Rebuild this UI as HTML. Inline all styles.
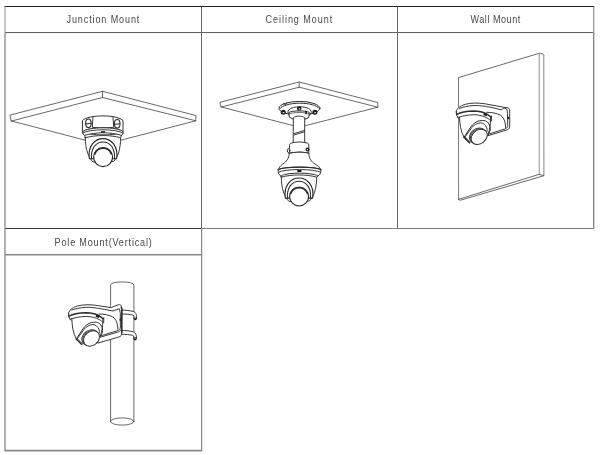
<!DOCTYPE html>
<html>
<head>
<meta charset="utf-8">
<title>Mount types</title>
<style>
html,body{margin:0;padding:0;background:#fff;}
body{width:600px;height:455px;overflow:hidden;font-family:"Liberation Sans",sans-serif;}
svg{display:block;filter:grayscale(1);}
.t{font-family:"Liberation Sans",sans-serif;font-size:11.3px;fill:#484848;}
.d{fill:none;stroke:#2e2e2e;stroke-width:0.95;stroke-linecap:round;stroke-linejoin:round;}
.w{fill:#fff;stroke:#2e2e2e;stroke-width:0.95;stroke-linecap:round;stroke-linejoin:round;}
.k{fill:#1c1c1c;stroke:none;}
.p{fill:none;stroke:#424242;stroke-width:0.8;stroke-linecap:round;stroke-linejoin:round;}
.pw{fill:#fff;stroke:#424242;stroke-width:0.8;stroke-linecap:round;stroke-linejoin:round;}
.h{fill:none;stroke:#2a2a2a;stroke-width:1.3;stroke-linecap:round;}
</style>
</head>
<body>
<svg width="600" height="455" viewBox="0 0 600 455">
<rect width="600" height="455" fill="#fff"/>

<!-- ===== table grid ===== -->
<g id="grid" fill="none">
  <line x1="4.4" y1="6.5" x2="594.3" y2="6.5" stroke="#222" stroke-width="1"/>
  <line x1="5" y1="32.5" x2="593.5" y2="32.5" stroke="#606060" stroke-width="1"/>
  <line x1="5" y1="228.5" x2="201.5" y2="228.5" stroke="#3a3a3a" stroke-width="1"/>
  <line x1="201.5" y1="228.5" x2="594" y2="228.5" stroke="#808080" stroke-width="1"/>
  <line x1="5" y1="254.8" x2="201.5" y2="254.8" stroke="#888" stroke-width="1.5"/>
  <line x1="4.5" y1="450.7" x2="202.2" y2="450.7" stroke="#888" stroke-width="1.7"/>
  <line x1="5" y1="6.5" x2="5" y2="32.5" stroke="#a4a4a4" stroke-width="1.2"/>
  <line x1="5" y1="32.5" x2="5" y2="450.7" stroke="#808080" stroke-width="1.2"/>
  <line x1="201.5" y1="6.5" x2="201.5" y2="228.5" stroke="#6a6a6a" stroke-width="1"/>
  <line x1="201.6" y1="228.5" x2="201.6" y2="450.7" stroke="#888" stroke-width="1.2"/>
  <line x1="397.5" y1="6.5" x2="397.5" y2="228.5" stroke="#6a6a6a" stroke-width="1"/>
  <line x1="593.7" y1="6.5" x2="593.7" y2="32.5" stroke="#989898" stroke-width="1.3"/>
  <line x1="593.7" y1="32.5" x2="593.7" y2="229" stroke="#808080" stroke-width="1.3"/>
</g>

<!-- ===== labels ===== -->
<g id="labels">
  <text class="t" transform="translate(66.5,23.3) scale(0.8,1)" x="0" y="0" textLength="91.1" lengthAdjust="spacing">Junction Mount</text>
  <text class="t" transform="translate(265.6,23.3) scale(0.8,1)" x="0" y="0" textLength="83.2" lengthAdjust="spacing">Ceiling Mount</text>
  <text class="t" transform="translate(470.6,23.3) scale(0.8,1)" x="0" y="0" textLength="62.0" lengthAdjust="spacing">Wall Mount</text>
  <text class="t" transform="translate(54.6,245.6) scale(0.8,1)" x="0" y="0" textLength="121.5" lengthAdjust="spacing">Pole Mount(Vertical)</text>
</g>

<defs>
  <!-- camera seen from below (junction coords: housing centre 102.8,152) -->
  <g id="camB">
    <!-- dome body -->
    <path class="w" d="M85.3,137.5 C85.4,143 85.8,148 87.8,153.6 C89,156.5 90.5,159.5 93,162 L113.5,161.5 C116,159 117.5,156 118.5,153 C120,148 120.6,143 120.7,137.7 C110,134.8 96,134.8 85.3,137.7 Z"/>
    <!-- lens housing rings -->
    <path class="w" d="M89.4,158.7 C88.6,154 89.3,148 92.5,143.8 C95.3,140.4 99,138.6 103,138.6 C107,138.6 110.7,140.4 113.5,143.8 C116.7,148 117.4,154 116.6,158.7 Z" style="stroke-width:1.15;stroke:#262626"/>
    <path class="d" d="M91.5,158.7 C91.1,154 91.9,149.9 94.2,146.5 C96.4,143.5 99.5,141.9 103,141.9 C106.5,141.9 109.6,143.5 111.8,146.5 C114.1,149.9 114.9,154 114.5,158.7" style="stroke-width:1.05;stroke:#2a2a2a"/>
    <!-- lens face -->
    <circle class="w" cx="103.1" cy="157.1" r="9.5" style="stroke-width:1.15;stroke:#262626"/>
    <path d="M94.9,153.9 A8.8,8.8 0 0 1 111.3,153.9" fill="none" stroke="#2a2a2a" stroke-width="1.6" stroke-linecap="round"/>
  </g>

  <!-- camera, side/below view (wall coords) -->
  <g id="camS">
    <!-- base ring + dome fills -->
    <path class="w" d="M456.6,112.5 C460,110.4 470,109 480,109.4 L491.5,112.5 L491.5,121 L458,118 L456.7,115.3 Z" style="stroke:none"/>
    <path class="w" d="M458.9,117 C459.2,124 460.2,131 464,137.3 L469.3,142.7 L488,134.8 C490,129 490.8,122 490.6,116.6 C487,114 480,112.6 474,112.6 C468,112.6 462,114.5 458.9,117 Z" style="stroke:none"/>
    <path class="d" d="M456.3,111.3 L456.7,115.3 L457.8,117.4"/>
    <path class="d" d="M457,114.3 C460,112.5 467,111.2 474,111 C479,111 483,112 486,113.7 C488,114.8 489.6,115.9 490.6,117" style="stroke-width:1.45"/>
    <path class="d" d="M457.8,117.6 C461,116.2 468,114.8 474,114.7 C479,114.8 484,116.2 487,117.9 C489,119 490,119.9 490.6,120.8"/>
    <!-- dome -->
    <path class="d" d="M459.5,117.2 C459.8,124 460.6,131 464,137.3 C465.5,139.3 467.3,141.2 469.3,142.7"/>
    <path class="d" d="M464,137.3 L469.5,142.8" style="stroke-width:1.3"/>
    <path class="d" d="M465,136.9 L470.3,142.2" style="stroke-width:0.8"/>
    <path class="d" d="M490.6,116.6 C490.8,122 490,129 488,134.8"/>
    <path class="d" d="M491.5,116 L491.4,121"/>
    <!-- eyeball housing rings -->
    <path class="d" d="M464,137.3 L470.7,127.1 C472.5,124.4 476,121.4 479.3,120.8 C482,120.4 484,120.4 485.3,120.8 C487.6,121.5 489.4,124 490.2,127.1 C490.6,129.3 490.2,132 488,134.8" style="stroke-width:1"/>
    <path class="d" d="M465,137 L472,127.3 C473.6,125.3 476.8,123.1 480.7,122.8 C483.2,122.8 485.6,124.9 486.7,127.7 C487.2,129 487.3,130.3 487,131.5"/>
    <!-- lens barrel + face -->
    <ellipse class="w" cx="477.5" cy="135.6" rx="8.8" ry="6.8" transform="rotate(-39 477.5 135.6)" style="stroke-width:0.95"/>
    <ellipse class="w" cx="478.4" cy="136.25" rx="8.8" ry="6.8" transform="rotate(-39 478.4 136.25)" style="stroke-width:0.8"/>
    <ellipse class="w" cx="479.2" cy="136.8" rx="8.8" ry="6.8" transform="rotate(-39 479.2 136.8)" style="stroke-width:1"/>
    <rect class="k" x="483.6" y="113.4" width="3.5" height="2.3" transform="rotate(22 485.3 114.5)"/>
  </g>
</defs>

<!-- ===== Junction Mount ===== -->
<g id="junction">
  <!-- plate -->
  <path class="p" d="M10.3,115 L102.5,91.3 L195.8,115.5 L195.8,120.8 L102.5,97.5 L11.5,121 Z"/>
  <path class="p" d="M102.5,91.3 L102.5,97.5"/>
  <path class="p" d="M11.5,121 L103.1,144.8 L195.8,120.8"/>
  <!-- junction box -->
  <path class="w" d="M82.7,120.3 C88,114.3 118,114.3 123,120.7 L123,131.7 C118,136 88,136 82.7,131.7 Z" style="stroke-width:1"/>
  <path class="d" d="M93,116.6 L92.3,127.4 C99,127.9 107,127.9 113.7,127.4 L113,116.6"/>
  <path class="d" d="M82.7,131.7 C88,126.5 118,126.5 123,131.7" style="stroke-width:1"/>
  <ellipse class="d" cx="88.4" cy="123.3" rx="2.8" ry="4.3" style="stroke-width:1.1;stroke:#262626"/>
  <path class="d" d="M85.8,124 L91,123.2" style="stroke-width:1.1"/>
  <ellipse class="d" cx="117.2" cy="123.8" rx="2.8" ry="4.3" style="stroke-width:1.1;stroke:#262626"/>
  <path class="d" d="M114.6,124.3 L119.8,123.8" style="stroke-width:1.1"/>
  <!-- camera base ring -->
  <path d="M84.6,135.2 L85.3,137.9 L120.7,137.9 L121.4,135.2 Z" fill="#fff"/>
  <path class="d" d="M84.6,135.2 L85.3,137.9 M120.7,137.9 L121.4,135.2"/>
  <path class="w" d="M82.7,131.7 C88,126.5 118,126.5 123,131.7 C123.3,133.5 122.6,134.6 121.4,135.3 C110,131.9 96,131.9 84.6,135.3 C83.2,134.6 82.4,133.5 82.7,131.7 Z"/>
  <path class="d" d="M82.7,133.2 C89,128.6 117,128.6 123,133.2"/>
  <rect class="k" x="101" y="131.2" width="4.1" height="1.5"/>
  <use href="#camB"/>
</g>

<!-- ===== Ceiling Mount ===== -->
<g id="ceiling">
  <path class="p" d="M220.3,102.2 L299.2,82 L377.8,102.5 L377.8,107.2 L299.2,87.2 L221.3,107 Z"/>
  <path class="p" d="M299.2,82 L299.2,87.2"/>
  <path class="p" d="M221.3,107 L299.3,127.2 L377.8,107.2"/>
  <!-- flange -->
  <ellipse class="w" cx="299.5" cy="108.3" rx="20.5" ry="6.9" style="stroke-width:1;stroke:#2a2a2a"/>
  <path class="d" d="M280,108.6 C282,105.6 290,103.2 299.7,103.2 C309.4,103.2 317,105.4 318.9,108.2" style="stroke-width:1"/>
  <path class="d" d="M283.4,103.4 L285.3,105.2 L286.3,103" style="stroke-width:0.8"/>
  <path class="d" d="M289.6,115.2 C287.6,113.8 287.4,111.4 288.8,109.9 C291,107.6 295,106.8 299.6,106.8 C304.2,106.8 308.4,107.6 310.5,109.9 C311.8,111.4 311.6,113.8 309.6,115.2"/>
  <!-- screws -->
  <circle class="k" cx="283.3" cy="112.3" r="2.5"/>
  <circle class="k" cx="299.2" cy="108.5" r="2.3"/>
  <circle class="k" cx="314.9" cy="112.3" r="2.5"/>
  <ellipse cx="283.5" cy="112.7" rx="0.9" ry="0.6" fill="#fff"/>
  <ellipse cx="299.4" cy="108.9" rx="0.8" ry="0.55" fill="#fff"/>
  <ellipse cx="315.1" cy="112.7" rx="0.9" ry="0.6" fill="#fff"/>
  <!-- hub -->
  <path class="w" d="M289.2,112.3 C292,110.4 306,110.4 309.2,112.3 L308.8,117.4 C305,120.6 294,120.6 289.6,117.4 Z" style="stroke-width:1"/>
  <path class="d" d="M289.4,113.8 C293,112 305.5,112 309,113.8" style="stroke-width:0.7"/>
  <rect class="k" x="305.2" y="111" width="1.7" height="3.2"/>
  <!-- pole -->
  <path class="w" d="M293.6,117.6 C296,115.6 302,115.6 304.7,117.6 L304.7,143 L293.6,143 Z"/>
  <path class="d" d="M294,133.6 L304.5,130.4 M294,135 L304.5,131.8"/>
  <!-- collar -->
  <path class="w" d="M289.6,144.8 C289.7,144 290.2,143.5 291,143.2 C295,141.6 304,141.6 307.6,143.2 C308.4,143.5 308.8,144 308.8,144.8 L308.8,153.5 C306,151.8 293,151.8 289.4,153.5 Z"/>
  <path class="d" d="M289.4,153.5 C293,151.8 306,151.8 308.8,153.5" style="stroke-width:1.2"/>
  <ellipse class="w" cx="288.6" cy="150.7" rx="1.3" ry="1.9" style="stroke-width:1;stroke:#222"/>
  <circle class="k" cx="307.5" cy="149.6" r="2"/>
  <circle cx="307.4" cy="149.6" r="0.7" fill="#fff"/>
  <!-- bell -->
  <path class="w" d="M289.4,153.5 C293,151.8 306,151.8 308.8,153.5 C309.3,159 311,161.5 315.3,164.2 C318,166 320.3,167.6 320.8,169.8 L278.4,169.8 C278.9,167.6 280,166.3 282.5,164.2 C286.5,161.5 288.7,159 289.4,153.5 Z"/>
  <!-- rim / camera base -->
  <path class="w" d="M278.3,169.6 C284,166.3 315,166.3 320.8,169.6 C321.2,172.5 320.2,174.5 318.2,175.8 C309,172.2 290,172.2 280.6,175.8 C278.6,174.5 277.8,172.5 278.3,169.6 Z" style="stroke-width:1"/>
  <path class="d" d="M278.4,169.6 C284,166.3 315,166.3 320.8,169.6" style="stroke-width:1.2"/>
  <path class="d" d="M278.4,172.2 C285,168.6 314,168.6 320.6,172.2"/>
  <path d="M280.6,175.8 L281.3,177.4 L316.7,177.4 L318.2,175.8 Z" fill="#fff"/>
  <path class="d" d="M280.6,175.8 L281.3,177.3 M316.7,177.3 L318.2,175.8"/>
  <rect class="k" x="297.3" y="170" width="4.1" height="2"/>
  <use href="#camB" transform="translate(196,39.4)"/>
</g>


<!-- ===== Wall Mount ===== -->
<g id="wall">
  <!-- slab -->
  <path class="p" d="M458.5,77.6 L539.2,53.3 C541.5,53.1 543,53.7 543.8,54.9" />
  <path d="M458.5,77.6 L458.6,199.3" fill="none" stroke="#555" stroke-width="0.8"/>
  <path d="M539.2,53.3 L539.2,174.3" fill="none" stroke="#888" stroke-width="0.9"/>
  <path d="M543.8,54.9 L543.9,175.7" fill="none" stroke="#888" stroke-width="1"/>
  <path class="p" d="M458.6,199.3 L539.2,174.3 L543.9,175.7 L460.6,200.2 Z"/>
  <!-- bracket -->
  <path class="w" d="M456.3,111.3 C457,108.5 459,106.4 465.3,104.3 C471,102.8 478,102.7 485,103.8 L504,107.3 L507.3,107.7 C509,108 509.7,109 509.7,111 L509.7,126 C509.7,128 508.8,129.2 507.3,129.8 L488,135.7 L470,135 L456.7,115.3 Z"/>
  <path class="d" d="M459.3,108.5 C462,107.3 468,105.8 474,105.5 C479,105.4 484,106.1 492,107.5 L501.3,109.9 L504,107.9 L506.7,109 C507.3,110 507.5,112 507.5,113.3 L507.7,125.4 C507.7,127.2 506.9,128.2 505.7,128.7 L488.6,134.1"/>
  <ellipse class="k" cx="508.5" cy="118" rx="0.8" ry="1.2"/>
  <use href="#camS"/>
  <path class="d" d="M486.7,112.3 C492,112.3 497,113.3 500.7,115.3 C503,117 504.8,120 505.3,124 L505.7,127.6"/>
</g>

<!-- ===== Pole Mount ===== -->
<g id="pole">
  <!-- pole -->
  <path class="p" d="M110.6,421.5 L110.6,285 C110.6,280.9 133.9,280.9 133.9,285 L133.9,421.5"/>
  <ellipse class="p" cx="122.25" cy="421.5" rx="11.65" ry="3.6"/>
  <!-- straps -->
  <g id="strap">
    <path class="w" d="M121.6,310 C126,310.2 130,310.6 133.3,311.5 C135.6,312.3 136.7,314 136.7,318.4 L134,318.6 L134.1,316.5 C134,315.8 133.6,315.3 132.8,315 C130,314.4 126,314 121.6,314 Z"/>
    <ellipse class="k" cx="135.3" cy="318.5" rx="1.5" ry="1.8"/>
    <ellipse cx="135.2" cy="317.7" rx="0.7" ry="0.6" fill="#fff"/>
  </g>
  <use href="#strap" transform="translate(-0.2,20.3)"/>
  <g transform="translate(-387.7,201.7)">
    <path class="w" d="M456.3,111.3 C457,108.5 459,106.4 465.3,104.3 C471,102.8 478,102.7 485,103.8 L499,106 L500.7,105 L506.3,103 C507.6,102.7 508.5,103.2 508.9,104.4 L509.5,107.5 L509.4,131.2 C509.4,133.6 508.6,134.7 506.6,135.3 L485.7,141.3 L470,135 L456.7,115.3 Z"/>
    <path class="d" d="M509.1,105.5 L509.5,107.5 L509.4,131.2" style="stroke-width:1.5"/>
    <path class="d" d="M459.3,108.4 C462,107.3 468,105.9 474,105.6 C479,105.5 484,106.2 492,107.6 L500.7,109.3 L504.4,107.8 L507.2,107.2 L508,111.5 L508.1,125.4 C508.1,127.2 507.2,128.2 506,128.7 L488.6,134.1"/>
    <path class="d" d="M488,135.5 L506.4,130.1 C507.6,129.7 508.3,129.1 508.6,128.2"/>
    <ellipse class="k" cx="507.9" cy="118" rx="0.8" ry="1.2"/>
    <use href="#camS"/>
    <path class="d" d="M486.7,112.3 C492,112.3 497,113.3 500.7,115.3 C503,117 504.8,120 505.3,124 L505.7,127.6"/>
  </g>
</g>

</svg>
</body>
</html>
